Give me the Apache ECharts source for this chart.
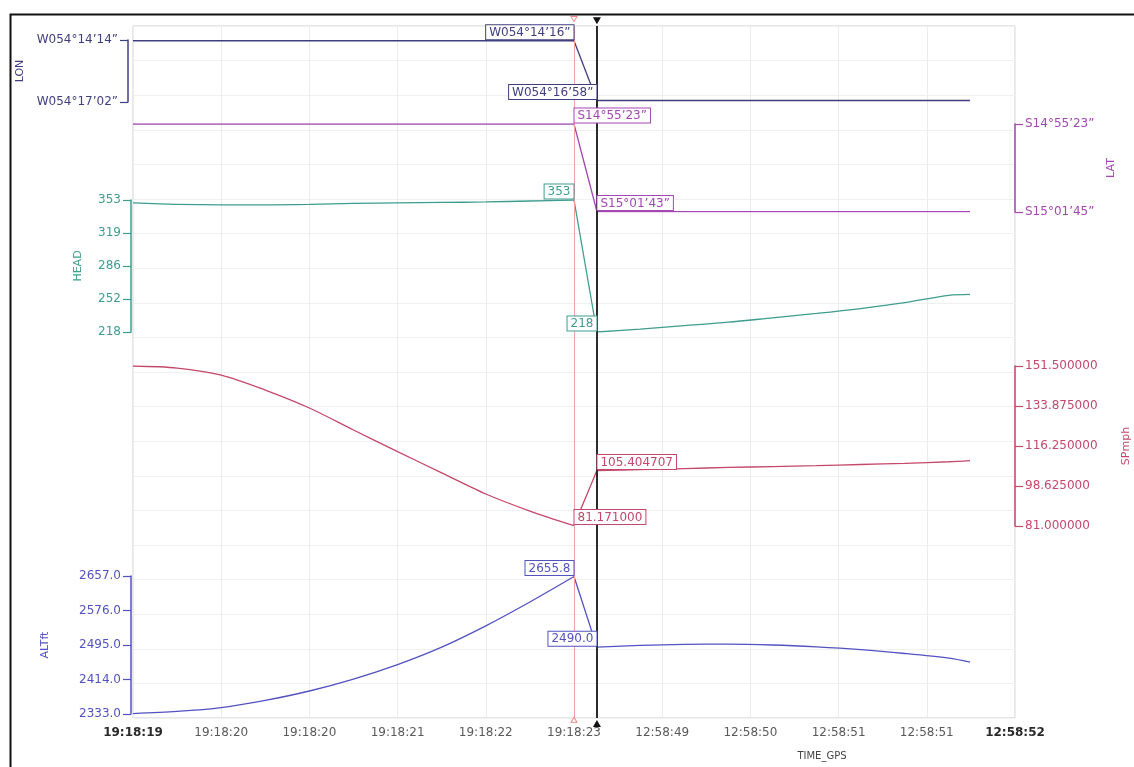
<!DOCTYPE html>
<html>
<head>
<meta charset="utf-8">
<script src="https://cdn.jsdelivr.net/npm/echarts@6/dist/echarts.min.js"></script>
<style>
  html, body { margin: 0; padding: 0; background: #ffffff; }
  #chart { width: 1134px; height: 767px; }
</style>
</head>
<body>
<div id="chart"></div>
<script>
// Time axis: sample positions in tick units, one tick per label below
const X_LABELS = ['19:18:19', '19:18:20', '19:18:20', '19:18:21', '19:18:22', '19:18:23',
                  '12:58:49', '12:58:50', '12:58:51', '12:58:51', '12:58:52'];
const TIME = [0, 0.5, 1, 1.5, 2, 2.5, 3, 3.5, 4, 4.5, 5, 5.26,
              5.75, 6.25, 6.75, 7.25, 7.75, 8.25, 8.75, 9.25, 9.49];

// Longitude / latitude in arc-seconds (W / S)
const LON_SEC = [195256, 195256, 195256, 195256, 195256, 195256, 195256, 195256, 195256, 195256, 195256,
                 195418, 195418, 195418, 195418, 195418, 195418, 195418, 195418, 195418, 195418];
const LAT_SEC = [53723, 53723, 53723, 53723, 53723, 53723, 53723, 53723, 53723, 53723, 53723,
                 54103, 54103, 54103, 54103, 54103, 54103, 54103, 54103, 54103, 54103];
const HEAD = [350, 348.5, 348, 348, 348.5, 349.5, 350, 350.5, 351, 352, 353,
              218, 221, 224.5, 228, 232.5, 237, 242, 248, 255.5, 256.5];
const SPMPH = [151.5, 150.6, 147.5, 140.9, 133.0, 123.3, 113.8, 104.4, 95.1, 87.6, 81.171,
               105.404707, 105.8, 106.3, 106.8, 107.2, 107.6, 108.1, 108.6, 109.3, 109.8];
const ALTFT = [2334, 2339, 2348, 2365, 2387, 2415, 2449, 2490, 2540, 2596, 2655.8,
               2490.0, 2494, 2496.5, 2497, 2495, 2490.5, 2484, 2475, 2464, 2455];

// Axis tick values
const LON_TICKS = [195254, 195422];
const LAT_TICKS = [53723, 54105];
const HEAD_TICKS = [218, 251.75, 285.5, 319.25, 353];
const SPMPH_TICKS = [81, 98.625, 116.25, 133.875, 151.5];
const ALTFT_TICKS = [2333, 2414, 2495, 2576, 2657];

// Cursor positions and the samples they read out
const CURSOR_A = 5;
const CURSOR_B = 5.26;
const READOUT_IDX = [10, 11];

const FONT = 'DejaVu Sans';
const C_LON = '#3f3f80';
const C_LAT = '#a447b4';
const C_HEAD = '#3e9d90';
const C_SP = '#c4486a';
const C_ALT = '#5252c2';

const pad = (n, w) => String(n).padStart(w, '0');
function dms(prefix, degW) {
  return function (v) {
    const s = Math.round(v);
    const d = Math.floor(s / 3600);
    const m = Math.floor((s % 3600) / 60);
    const sec = s % 60;
    return prefix + pad(d, degW) + '\u00b0' + pad(m, 2) + '\u2019' + pad(sec, 2) + '\u201d';
  };
}
const fmtLon = dms('W', 3);
const fmtLat = dms('S', 2);
const fmtHead = v => String(Math.round(v));
const fmtSp = v => Number(v).toFixed(6);
const fmtAlt = v => Number(v).toFixed(1);

// Band layout: [top, height] in px for each sub-plot
const LEFT = 133, RIGHT = 119, TOP = 26, BOTTOM = 49;
const BANDS = [
  { top: 40, height: 62 },   // LON
  { top: 124, height: 88 },  // LAT
  { top: 200, height: 132 }, // HEAD
  { top: 366, height: 160 }, // SPmph
  { top: 576, height: 138 }  // ALTft
];

const grids = [{ left: LEFT, right: RIGHT, top: TOP, bottom: BOTTOM, show: true, outerBoundsMode: 'none',
                 borderColor: '#cfcfcf', borderWidth: 1, backgroundColor: 'transparent' }]
  .concat(BANDS.map(b => ({ left: LEFT, right: RIGHT, top: b.top, height: b.height, outerBoundsMode: 'none' })));

const xAxes = [{
  type: 'value', gridIndex: 0, min: 0, max: 10, interval: 1,
  axisLine: { show: false, onZero: false }, axisTick: { show: false },
  splitLine: { show: true, lineStyle: { color: '#ececec', width: 1 } },
  axisLabel: {
    margin: 9, fontFamily: FONT, fontSize: 12, color: '#5a5a5a',
    showMinLabel: true, showMaxLabel: true,
    formatter: function (v) {
      const i = Math.round(v);
      const t = X_LABELS[i];
      return (i === 0 || i === X_LABELS.length - 1) ? '{b|' + t + '}' : t;
    },
    rich: { b: { fontFamily: FONT, fontSize: 12, fontWeight: 'bold', color: '#2a2a2a' } }
  }
}].concat(BANDS.map((b, i) => ({ type: 'value', gridIndex: i + 1, min: 0, max: 10, show: false })));

function bandAxis(gridIndex, position, offset, min, max, ticks, fmt, color, name, nameGap, inverse) {
  return {
    type: 'value', gridIndex, position, offset, min, max, inverse: !!inverse,
    axisLine: { show: true, onZero: false, lineStyle: { color, width: 1.5 } },
    axisTick: { show: true, length: 8, customValues: ticks, lineStyle: { color, width: 1.2 } },
    axisLabel: { customValues: ticks, formatter: fmt, color, fontFamily: FONT, fontSize: 12, margin: 10,
                 showMinLabel: true, showMaxLabel: true },
    splitLine: { show: false },
    name, nameLocation: 'middle', nameGap, nameRotate: 90,
    nameTextStyle: { color, fontFamily: FONT, fontSize: 11 }
  };
}

const yAxes = [
  { type: 'value', gridIndex: 0, min: 0, max: 20, interval: 1,
    axisLine: { show: false }, axisTick: { show: false }, axisLabel: { show: false },
    splitLine: { show: true, lineStyle: { color: '#f0f0f0', width: 1 } } },
  bandAxis(1, 'left', 5, LON_TICKS[0], LON_TICKS[1], LON_TICKS, fmtLon, C_LON, 'LON', 95, true),
  bandAxis(2, 'right', 0, LAT_TICKS[0], LAT_TICKS[1], LAT_TICKS, fmtLat, C_LAT, 'LAT', 90, true),
  bandAxis(3, 'left', 2, HEAD_TICKS[0], HEAD_TICKS[4], HEAD_TICKS, fmtHead, C_HEAD, 'HEAD', 47),
  bandAxis(4, 'right', 0, SPMPH_TICKS[0], SPMPH_TICKS[4], SPMPH_TICKS, fmtSp, C_SP, 'SPmph', 106),
  bandAxis(5, 'left', 2, ALTFT_TICKS[0], ALTFT_TICKS[4], ALTFT_TICKS, fmtAlt, C_ALT, 'ALTft', 80)
];

// Each trace is drawn as: smooth run before cursor A, straight jump between cursors, smooth run after
function trace(axisIdx, values, color) {
  const pts = TIME.map((t, i) => [t, values[i]]);
  const a = READOUT_IDX[0], b = READOUT_IDX[1];
  const base = { type: 'line', xAxisIndex: axisIdx, yAxisIndex: axisIdx, symbol: 'none', silent: true,
                 lineStyle: { color, width: 1.3 }, z: 3 };
  return [
    Object.assign({}, base, { data: pts.slice(0, a + 1), smooth: 0.3 }),
    Object.assign({}, base, { data: pts.slice(a, b + 1), smooth: false }),
    Object.assign({}, base, { data: pts.slice(b), smooth: 0.3 })
  ];
}

// Boxed cursor read-outs; side = 'left' puts the box left of the sample
function readout(axisIdx, values, fmt, color, side) {
  return {
    type: 'scatter', xAxisIndex: axisIdx, yAxisIndex: axisIdx, silent: true, clip: false,
    symbolSize: 1, itemStyle: { color: 'rgba(0,0,0,0)', opacity: 1 }, z: 6,
    data: READOUT_IDX.map(i => [TIME[i], values[i]]),
    label: {
      show: true, position: [0, 0], offset: [side === 'left' ? 0 : 1, -1],
      align: side === 'left' ? 'right' : 'left', verticalAlign: 'bottom',
      formatter: p => fmt(p.value[1]),
      fontFamily: FONT, fontSize: 12, color, lineHeight: 13,
      backgroundColor: '#ffffff', borderColor: color, borderWidth: 1, padding: [1, 3, 0, 3]
    }
  };
}

const series = [].concat(
  trace(1, LON_SEC, C_LON),
  trace(2, LAT_SEC, C_LAT),
  trace(3, HEAD, C_HEAD),
  trace(4, SPMPH, C_SP),
  trace(5, ALTFT, C_ALT),
  [
    // cursor lines with their end markers
    {
      type: 'scatter', xAxisIndex: 0, yAxisIndex: 0, silent: true, clip: false, z: 5,
      data: [
        { value: [CURSOR_B, 20.15], symbol: 'triangle', symbolSize: [8, 7], symbolRotate: 180, itemStyle: { color: '#111', opacity: 1 } },
        { value: [CURSOR_B, -0.16], symbol: 'triangle', symbolSize: [8, 7], itemStyle: { color: '#111', opacity: 1 } },
        { value: [CURSOR_A, 20.2], symbol: 'triangle', symbolSize: [6, 5], symbolRotate: 180,
          itemStyle: { color: 'rgba(0,0,0,0)', borderColor: '#f08a8a', borderWidth: 1, opacity: 1 } },
        { value: [CURSOR_A, -0.05], symbol: 'triangle', symbolSize: [6, 5],
          itemStyle: { color: 'rgba(0,0,0,0)', borderColor: '#f08a8a', borderWidth: 1, opacity: 1 } }
      ],
      markLine: {
        silent: true, symbol: ['none', 'none'], label: { show: false }, animation: false,
        data: [
          { xAxis: CURSOR_A, lineStyle: { color: '#f2a0a0', width: 1, type: 'solid' } },
          { xAxis: CURSOR_B, lineStyle: { color: '#2b2b2b', width: 2, type: 'solid' } }
        ]
      }
    },
    readout(1, LON_SEC, fmtLon, C_LON, 'left'),
    readout(2, LAT_SEC, fmtLat, C_LAT, 'right'),
    readout(3, HEAD, fmtHead, C_HEAD, 'left'),
    readout(4, SPMPH, fmtSp, C_SP, 'right'),
    readout(5, ALTFT, fmtAlt, C_ALT, 'left')
  ]
);

const chart = echarts.init(document.getElementById('chart'), null, { renderer: 'canvas' });
chart.setOption({
  animation: false,
  backgroundColor: '#ffffff',
  grid: grids,
  xAxis: xAxes,
  yAxis: yAxes,
  series,
  graphic: [
    { type: 'rect', left: 8, top: 12, z: -1, silent: true,
      shape: { width: 1200, height: 800 }, style: { fill: 'none', stroke: '#111', lineWidth: 2 } },
    { type: 'text', x: 822, y: 756, silent: true,
      style: { text: 'TIME_GPS', fill: '#444', font: '10px "DejaVu Sans"', align: 'center', verticalAlign: 'middle' } }
  ]
});
</script>
</body>
</html>
